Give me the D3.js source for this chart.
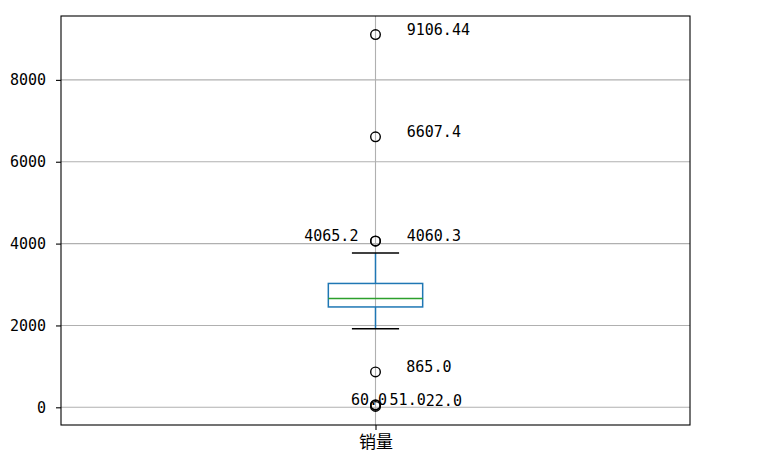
<!DOCTYPE html>
<html>
<head>
<meta charset="utf-8">
<script src="https://cdn.jsdelivr.net/npm/d3@7"></script>
<style>
  body { margin: 0; background: #fff; }
  svg text { fill: #000; }
</style>
</head>
<body>
<svg id="chart"></svg>
<script>
const width = 758;
const height = 465;

// box statistics for 销量
const category = '销量';
const boxStats = { lowWhisker: 1920, q1: 2452, median: 2656, q3: 3026, highWhisker: 3771 };
const outliers = [22.0, 51.0, 60.0, 865.0, 4060.3, 4065.2, 6607.4, 9106.44];
const yTicks = [0, 2000, 4000, 6000, 8000];

const margin = { top: 16, right: 68, bottom: 40, left: 61 };

const svg = d3.select('#chart')
  .attr('width', width)
  .attr('height', height);

const lo = d3.min(outliers), hi = d3.max(outliers);
const pad = (hi - lo) * 0.05;

const x = d3.scaleLinear()
  .domain([0.5, 1.5])
  .range([margin.left, width - margin.right]);
const y = d3.scaleLinear()
  .domain([lo - pad, hi + pad])
  .range([height - margin.bottom, margin.top]);

const numFont = 'DejaVu Sans Mono, monospace';

// grid
svg.append('g')
  .selectAll('line')
  .data(yTicks)
  .enter()
  .append('line')
  .attr('x1', x(0.5)).attr('x2', x(1.5))
  .attr('y1', d => y(d)).attr('y2', d => y(d))
  .attr('stroke', '#b0b0b0')
  .attr('stroke-width', 1.1);
svg.append('line')
  .attr('x1', x(1)).attr('x2', x(1))
  .attr('y1', y.range()[0]).attr('y2', y.range()[1])
  .attr('stroke', '#b0b0b0')
  .attr('stroke-width', 1.1);

// y axis
const yAxis = svg.append('g')
  .attr('transform', `translate(${x(0.5)},0)`)
  .call(d3.axisLeft(y).tickValues(yTicks).tickSize(5).tickPadding(10).tickFormat(d3.format('d')));
yAxis.select('.domain').remove();
yAxis.selectAll('line').attr('stroke', '#000').attr('stroke-width', 1.1);
yAxis.selectAll('text')
  .attr('font-family', numFont)
  .attr('font-size', 15)
  .attr('fill', '#000');

// x axis
const xAxis = svg.append('g')
  .attr('transform', `translate(0,${y.range()[0]})`)
  .call(d3.axisBottom(x).tickValues([1]).tickSize(5).tickPadding(6).tickFormat(() => category));
xAxis.select('.domain').remove();
xAxis.selectAll('line').attr('stroke', '#000').attr('stroke-width', 1.1);
xAxis.selectAll('text')
  .attr('font-family', 'Noto Sans CJK SC, sans-serif')
  .attr('font-size', 17)
  .attr('fill', '#000');

// box
const boxW = 0.15;
const blue = '#1f77b4';
svg.append('rect')
  .attr('x', x(1 - boxW / 2))
  .attr('width', x(1 + boxW / 2) - x(1 - boxW / 2))
  .attr('y', y(boxStats.q3))
  .attr('height', y(boxStats.q1) - y(boxStats.q3))
  .attr('fill', 'none')
  .attr('stroke', blue)
  .attr('stroke-width', 1.5);

// whiskers
[[boxStats.q3, boxStats.highWhisker], [boxStats.q1, boxStats.lowWhisker]].forEach(([a, b]) => {
  svg.append('line')
    .attr('x1', x(1)).attr('x2', x(1))
    .attr('y1', y(a)).attr('y2', y(b))
    .attr('stroke', blue)
    .attr('stroke-width', 1.5);
});

// caps
[boxStats.highWhisker, boxStats.lowWhisker].forEach(v => {
  svg.append('line')
    .attr('x1', x(1 - boxW / 4)).attr('x2', x(1 + boxW / 4))
    .attr('y1', y(v)).attr('y2', y(v))
    .attr('stroke', '#000')
    .attr('stroke-width', 1.5);
});

// median
svg.append('line')
  .attr('x1', x(1 - boxW / 2)).attr('x2', x(1 + boxW / 2))
  .attr('y1', y(boxStats.median)).attr('y2', y(boxStats.median))
  .attr('stroke', '#2ca02c')
  .attr('stroke-width', 1.5);

// fliers
svg.append('g')
  .selectAll('circle')
  .data(outliers)
  .enter()
  .append('circle')
  .attr('cx', x(1))
  .attr('cy', d => y(d))
  .attr('r', 4.8)
  .attr('fill', 'none')
  .attr('stroke', '#000')
  .attr('stroke-width', 1.4);

// annotations, offset like the usual plt.annotate trick
const fmt = v => Number.isInteger(v) ? v.toFixed(1) : String(v);
svg.append('g')
  .selectAll('text')
  .data(outliers)
  .enter()
  .append('text')
  .attr('x', (d, i) => i === 0 ? x(1 + 0.08) : x(1 + 0.05 - 0.8 / (d - outliers[i - 1])))
  .attr('y', d => y(d))
  .attr('font-family', numFont)
  .attr('font-size', 15)
  .text(d => fmt(d));

// frame
svg.append('rect')
  .attr('x', x(0.5))
  .attr('y', margin.top)
  .attr('width', x(1.5) - x(0.5))
  .attr('height', y.range()[0] - margin.top)
  .attr('fill', 'none')
  .attr('stroke', '#000')
  .attr('stroke-width', 1.1);
</script>
</body>
</html>
